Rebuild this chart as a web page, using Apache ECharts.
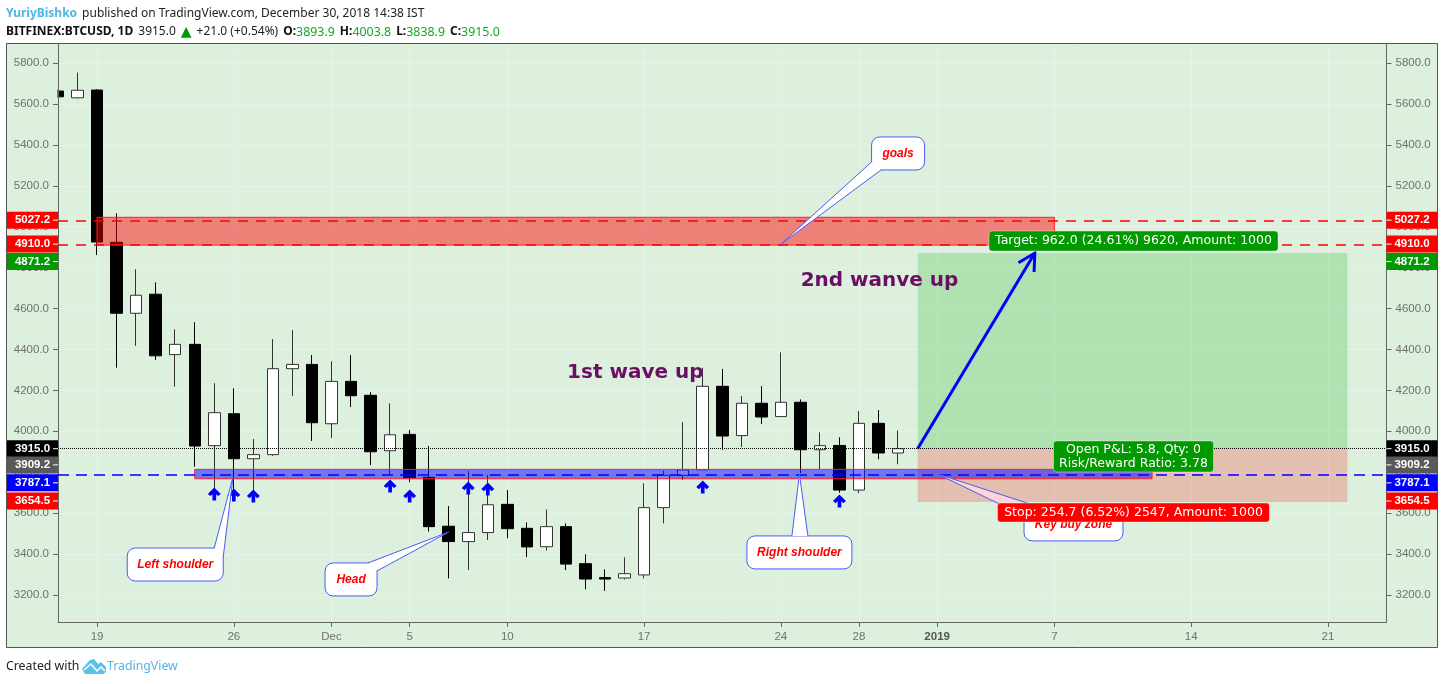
<!DOCTYPE html>
<html>
<head>
<meta charset="utf-8">
<style>
  html, body { margin: 0; padding: 0; background: #fff; }
  #chart { width: 1444px; height: 684px; }
</style>
<script src="https://cdn.jsdelivr.net/npm/echarts@6/dist/echarts.min.js"></script>
</head>
<body>
<div id="chart"></div>
<script>
// one entry per day, day 0 is Nov 17 2018
const opens = [5663, 5630, 5668, 4924, 4577, 4670, 4375, 4425, 3930, 4086, 3866, 3886, 4306, 4327, 4037, 4244, 4176, 3905, 3985, 3775, 3536, 3461, 3505, 3643, 3526, 3436, 3534, 3353, 3285, 3283, 3298, 3627, 3785, 3812, 4220, 3979, 4137, 4072, 4142, 3910, 3931, 3713, 4039, 3893.9]
const closes = [5635, 5667, 4925, 4577, 4665, 4369, 4425, 3928, 4091, 3866, 3886, 4306, 4327, 4042, 4244, 4174, 3900, 3983, 3773, 3534, 3461, 3505, 3641, 3524, 3435, 3534, 3351, 3278, 3278, 3304, 3627, 3785, 3811, 4220, 3977, 4137, 4070, 4142, 3910, 3930, 3713, 4039, 3894, 3915]
const lows = [5630, 5627, 4862, 4311, 4418, 4348, 4218, 3827, 3664, 3700, 3664, 3880, 4173, 3953, 3967, 4119, 3835, 3790, 3751, 3510, 3281, 3322, 3469, 3477, 3385, 3418, 3322, 3228, 3220, 3276, 3281, 3550, 3762, 3812, 3909, 3923, 4036, 4070, 3796, 3814, 3700, 3698, 3863, 3838.9]
const highs = [5670, 5753, 5672, 5065, 4792, 4728, 4498, 4533, 4235, 4210, 3962, 4451, 4495, 4373, 4342, 4373, 4191, 4137, 4006, 3928, 3635, 3806, 3787, 3713, 3555, 3618, 3550, 3399, 3325, 3384, 3746, 3807, 4045, 4310, 4305, 4173, 4221, 4386, 4156, 3995, 3971, 4099, 4104, 4003.8]

// axis ticks
const priceTicks = [3200, 3400, 3600, 3800, 4000, 4200, 4400, 4600, 4800, 5000, 5200, 5400, 5600, 5800]
const dayTicks = [2, 9, 14, 18, 23, 30, 37, 41, 45, 51, 58, 65]
const dayLabels = ['19', '26', 'Dec', '5', '10', '17', '24', '28', '2019', '7', '14', '21']

// price tags on both axes
const tagPrices = [5027.2, 4910.0, 4871.2, 3915.0, 3909.2, 3787.1, 3654.5]
const tagColors = ['#ff0000', '#ff0000', '#009900', '#000000', '#5a5a5a', '#0000ff', '#ff0000']
const tagShifts = [-1, -1, 8.5, 0, 15, 8, -1]

// horizontal zones: red goal box and blue buy box
const zoneStart = [2, 7]
const zoneEnd = [51, 56]
const zoneLow = [4910, 3768]
const zoneHigh = [5046, 3814]
const zoneFill = ['rgba(255,0,0,0.46)', 'rgba(0,0,255,0.5)']

// long position box
const positionEntry = 3915
const positionTarget = 4871.2
const positionStop = 3654.5
const positionFrom = 44
const positionTo = 66

// blue arrows under the lows
const arrowDays = [8, 9, 10, 17, 18, 21, 22, 33, 40]
const arrowPrices = [3694, 3689, 3684, 3733, 3684, 3723, 3718, 3728, 3659]

// callouts
const calloutText = ['Left shoulder', 'Head', 'Right shoulder', 'goals', 'Key buy zone']
const calloutDay = [6.0, 15.0, 37.95, 43, 51.98]
const calloutPrice = [3349, 3276, 3408, 5358, 3545]
const calloutTipDay = [8.96, 20, 37.95, 37, 45]
const calloutTipPrice = [3778, 3508, 3791, 4915, 3792]
const calloutSize = [[96, 33], [52, 33], [105, 33], [53, 33], [99, 33]]
const calloutBase = [[39, -16.5, 48, -7.5], [17, -16.5, 26, -8.5], [-7.5, -16.5, 8.5, -16.5], [-26.5, 8.5, -17, 16.5], [-31.5, -16.5, -49.5, -8.5]]
const calloutTailFill = ['#ffffff', '#ffffff', '#ffffff', '#ffffff', '#ffd4d4']

// big texts on the chart
const waveText = ['1st wave up', '2nd wanve up']
const waveDay = [29.55, 42.05]
const wavePrice = [4287, 4735]

// labels of the position box
const boxText = ['Target: 962.0 (24.61%) 9620, Amount: 1000', 'Open P&L: 5.8, Qty: 0\nRisk/Reward Ratio: 3.78', 'Stop: 254.7 (6.52%) 2547, Amount: 1000']
const boxPrice = [4930, 3877, 3603]
const boxColor = ['#009900', '#009900', '#ff0000']
const boxSize = [[289, 20], [160, 31], [272, 19]]
const boxDay = 55.05

const bgColor = '#ddefdd'
const gridColor = '#e7f2ec'
const axisColor = '#666666'
const tickFont = 'Liberation Sans'

const candleData = opens.map((o, i) => [i, o, closes[i], lows[i], highs[i]])

// plain lookup for the x tick labels
function dayLabel (v) {
  const i = dayTicks.indexOf(v)
  const s = i < 0 ? '' : dayLabels[i]
  return s === '2019' ? '{b|2019}' : s
}

function renderPosition (params, api) {
  const a = api.coord([positionFrom, positionEntry])
  const b = api.coord([positionTo, positionTarget])
  const c = api.coord([positionTo, positionStop])
  return {
    type: 'group',
    children: [
      { type: 'rect', shape: { x: a[0], y: b[1], width: b[0] - a[0], height: a[1] - b[1] }, style: { fill: 'rgba(0,170,0,0.2)' } },
      { type: 'rect', shape: { x: a[0], y: a[1], width: c[0] - a[0], height: c[1] - a[1] }, style: { fill: 'rgba(255,0,0,0.2)' } }
    ]
  }
}

function renderZone (params, api) {
  const a = api.coord([api.value(0), api.value(3)])
  const b = api.coord([api.value(1), api.value(2)])
  return {
    type: 'rect',
    shape: { x: a[0], y: a[1], width: b[0] - a[0], height: b[1] - a[1] },
    style: { fill: zoneFill[params.dataIndex], stroke: '#ff2020', lineWidth: 1 }
  }
}

// the blue line from entry to target with an open head
function renderMainArrow (params, api) {
  const a = api.coord([positionFrom, positionEntry])
  const b = api.coord([50, positionTarget])
  const ang = Math.atan2(b[1] - a[1], b[0] - a[0])
  const len = 19
  const arm = d => [b[0] - len * Math.cos(ang + d), b[1] - len * Math.sin(ang + d)]
  const lineStyle = { stroke: '#0000ff', lineWidth: 3, fill: null }
  return {
    type: 'group',
    children: [
      { type: 'line', shape: { x1: a[0], y1: a[1], x2: b[0], y2: b[1] }, style: lineStyle },
      { type: 'polyline', shape: { points: [arm(0.5), b, arm(-0.5)] }, style: lineStyle }
    ]
  }
}

function renderCallout (params, api) {
  const i = params.dataIndex
  const c = api.coord([calloutDay[i], calloutPrice[i]])
  const tip = api.coord([calloutTipDay[i], calloutTipPrice[i]])
  const w = calloutSize[i][0]
  const h = calloutSize[i][1]
  const base = calloutBase[i]
  const b1 = [c[0] + base[0], c[1] + base[1]]
  const b2 = [c[0] + base[2], c[1] + base[3]]
  const line = '#4a5cf5'
  return {
    type: 'group',
    children: [
      { type: 'rect', shape: { x: c[0] - w / 2, y: c[1] - h / 2, width: w, height: h, r: 8 }, style: { fill: '#fff', stroke: line, lineWidth: 1 } },
      { type: 'polygon', shape: { points: [b1, tip, b2] }, style: { fill: calloutTailFill[i], stroke: null } },
      { type: 'polyline', shape: { points: [b1, tip, b2] }, style: { fill: null, stroke: line, lineWidth: 1 } },
      { type: 'text', style: { text: calloutText[i], x: c[0], y: c[1], fill: '#ff0000', font: 'italic bold 12px "Liberation Sans"', align: 'center', verticalAlign: 'middle' } }
    ]
  }
}

function renderWaveText (params, api) {
  const i = params.dataIndex
  const c = api.coord([waveDay[i], wavePrice[i]])
  return {
    type: 'text',
    style: { text: waveText[i], x: c[0], y: c[1], fill: '#6b0f66', font: 'bold 20px "DejaVu Sans"', align: 'center', verticalAlign: 'middle' }
  }
}

function renderBox (params, api) {
  const i = params.dataIndex
  const c = api.coord([boxDay, boxPrice[i]])
  const w = boxSize[i][0]
  const h = boxSize[i][1]
  return {
    type: 'group',
    children: [
      { type: 'rect', shape: { x: c[0] - w / 2, y: c[1] - h / 2, width: w, height: h, r: 3 }, style: { fill: boxColor[i], stroke: 'rgba(255,255,255,0.4)', lineWidth: 1 } },
      { type: 'text', style: { text: boxText[i], x: c[0], y: c[1], fill: '#fff', font: '12.5px "DejaVu Sans"', lineHeight: 14, align: 'center', verticalAlign: 'middle' } }
    ]
  }
}

// price tags sit on the plot edges, some pushed down so they do not overlap
function renderTag (params, api) {
  const i = params.dataIndex
  const y = api.coord([0, tagPrices[i]])[1] + tagShifts[i]
  const sys = params.coordSys
  const leftX = sys.x - 51
  const rightX = sys.x + sys.width
  const text = tagPrices[i].toFixed(1)
  const tag = (x, tickX, textX) => [
    { type: 'rect', shape: { x: x, y: y - 8.5, width: 51, height: 17 }, style: { fill: tagColors[i] } },
    { type: 'line', shape: { x1: tickX, y1: y, x2: tickX + 5, y2: y }, style: { stroke: '#fff', lineWidth: 1 } },
    { type: 'text', style: { text: text, x: textX, y: y, fill: '#fff', font: 'bold 11.5px "Liberation Sans"', align: 'center', verticalAlign: 'middle' } }
  ]
  return { type: 'group', children: tag(leftX, sys.x - 5, leftX + 25.5).concat(tag(rightX, rightX, rightX + 25.5)) }
}

const yAxisCommon = {
  type: 'value',
  min: 3068,
  max: 5893,
  axisLine: { show: true, lineStyle: { color: axisColor, width: 1 } },
  axisTick: { show: true, length: 5, lineStyle: { color: axisColor }, customValues: priceTicks },
  axisLabel: { color: '#707070', fontSize: 11.5, fontFamily: tickFont, margin: 9, padding: [2, 0, 0, 0], customValues: priceTicks, formatter: v => v.toFixed(1) }
}

const option = {
  animation: false,
  backgroundColor: '#fff',
  grid: { left: 58, right: 57.5, top: 44, height: 578 },
  title: [
    {
      left: 6, top: 5, padding: 0,
      text: '{n|YuriyBishko} {t|published on TradingView.com, December 30, 2018 14:38 IST}',
      textStyle: {
        rich: {
          n: { fontFamily: 'Noto Sans', fontSize: 12, fontWeight: 'bold', color: '#4db5e8' },
          t: { fontFamily: 'Noto Sans', fontSize: 12, fontWeight: 'normal', color: '#222' }
        }
      }
    },
    {
      left: 6, top: 23, padding: 0,
      text: '{b|BITFINEX:BTCUSD, 1D} {t|3915.0} {g|▲} {t|+21.0 (+0.54%)} {b|O:}{v|3893.9} {b|H:}{v|4003.8} {b|L:}{v|3838.9} {b|C:}{v|3915.0}',
      textStyle: {
        rich: {
          b: { fontFamily: 'Noto Sans', fontSize: 12, fontWeight: 'bold', color: '#111' },
          t: { fontFamily: 'Noto Sans', fontSize: 12, fontWeight: 'normal', color: '#222' },
          g: { fontFamily: 'DejaVu Sans', fontSize: 14, fontWeight: 'normal', color: '#009900' },
          v: { fontFamily: 'Noto Sans', fontSize: 12.4, fontWeight: 'normal', color: '#11aa22' }
        }
      }
    },
    {
      left: 6, top: 660, padding: 0,
      text: 'Created with',
      textStyle: { fontFamily: 'Noto Sans', fontSize: 12.3, fontWeight: 'normal', color: '#222' }
    },
    {
      left: 107, top: 660, padding: 0,
      text: 'TradingView',
      textStyle: { fontFamily: 'Noto Sans', fontSize: 12.3, fontWeight: 'normal', color: '#4db5e8' }
    }
  ],
  graphic: [
    // outer frame of the picture
    { type: 'rect', z: -10, shape: { x: 6.5, y: 43.5, width: 1431, height: 604 }, style: { fill: bgColor, stroke: '#555', lineWidth: 1 } },
    // hides the half of the first candle that falls outside the plot
    { type: 'rect', z: 2.5, shape: { x: 7, y: 80, width: 50.5, height: 30 }, style: { fill: bgColor } },
    // little logo next to the brand name
    { type: 'polygon', z: 5, shape: { points: [[82, 669], [90, 660], [94, 659], [98, 664], [101, 662], [106, 667], [106, 672], [103, 674], [85, 674]] }, style: { fill: '#5bc0ea' } },
    { type: 'polyline', z: 6, shape: { points: [[84, 670], [91, 664], [97, 671], [101, 667], [105, 671]] }, style: { fill: null, stroke: '#fff', lineWidth: 1.5 } }
  ],
  xAxis: {
    type: 'value',
    min: 0,
    max: 68,
    axisLine: { show: true, onZero: false, lineStyle: { color: axisColor, width: 1 } },
    axisTick: { show: true, length: 5, lineStyle: { color: axisColor }, customValues: dayTicks },
    axisLabel: {
      color: '#707070',
      fontSize: 11.5,
      fontFamily: tickFont,
      margin: 9,
      customValues: dayTicks,
      formatter: dayLabel,
      rich: { b: { fontWeight: 'bold', color: '#555', fontSize: 11.5, fontFamily: tickFont } }
    },
    splitLine: { show: true, lineStyle: { color: gridColor, width: 1 }, customValues: dayTicks }
  },
  yAxis: [
    // left axis stays above the cover rect, so its grid lines come from the right axis
    Object.assign({}, yAxisCommon, { position: 'left', z: 3, splitLine: { show: false } }),
    Object.assign({}, yAxisCommon, { position: 'right', splitLine: { show: true, lineStyle: { color: gridColor, width: 1 }, customValues: priceTicks } })
  ],
  series: [
    { type: 'custom', z: 1, renderItem: renderPosition, data: [[positionFrom, positionEntry]], encode: { x: 0, y: 1 }, silent: true },
    {
      type: 'candlestick',
      z: 2,
      barWidth: 12,
      data: candleData,
      itemStyle: { color: '#ffffff', color0: '#000000', borderColor: '#333333', borderColor0: '#000000', borderWidth: 1 },
      markLine: {
        silent: true,
        symbol: 'none',
        label: { show: false },
        animation: false,
        data: [
          { yAxis: tagPrices[0], lineStyle: { color: '#ff0000', type: [10, 8], width: 1.5 } },
          { yAxis: tagPrices[1], lineStyle: { color: '#ff0000', type: [10, 8], width: 1.5 } },
          { yAxis: tagPrices[5], lineStyle: { color: '#0000ff', type: [11, 7], width: 1.5 } },
          { yAxis: tagPrices[3], lineStyle: { color: '#000000', type: [1, 1], width: 1 } }
        ]
      }
    },
    {
      type: 'custom',
      z: 3,
      renderItem: renderZone,
      data: zoneStart.map((d, i) => [d, zoneEnd[i], zoneLow[i], zoneHigh[i]]),
      encode: { x: [0, 1], y: [2, 3] },
      silent: true
    },
    {
      type: 'scatter',
      z: 4,
      symbol: 'path://M6 0 L12 6 L9.5 8 L7.7 6.2 L7.7 12 L4.3 12 L4.3 6.2 L2.5 8 L0 6 Z',
      symbolSize: 13,
      itemStyle: { color: '#0000ff', opacity: 1 },
      data: arrowDays.map((d, i) => [d, arrowPrices[i]]),
      silent: true
    },
    { type: 'custom', z: 4, renderItem: renderMainArrow, data: [[positionFrom, positionEntry]], encode: { x: 0, y: 1 }, silent: true },
    { type: 'custom', z: 4, renderItem: renderWaveText, data: waveDay.map((d, i) => [d, wavePrice[i]]), encode: { x: 0, y: 1 }, silent: true },
    { type: 'custom', z: 5, renderItem: renderCallout, data: calloutDay.map((d, i) => [d, calloutPrice[i]]), encode: { x: 0, y: 1 }, silent: true },
    { type: 'custom', z: 6, renderItem: renderBox, data: boxPrice.map(p => [boxDay, p]), encode: { x: 0, y: 1 }, silent: true },
    { type: 'custom', z: 7, renderItem: renderTag, data: tagPrices.map(p => [0, p]), encode: { x: 0, y: 1 }, silent: true }
  ]
}

const myChart = echarts.init(document.getElementById('chart'))
myChart.setOption(option)
</script>
</body>
</html>
